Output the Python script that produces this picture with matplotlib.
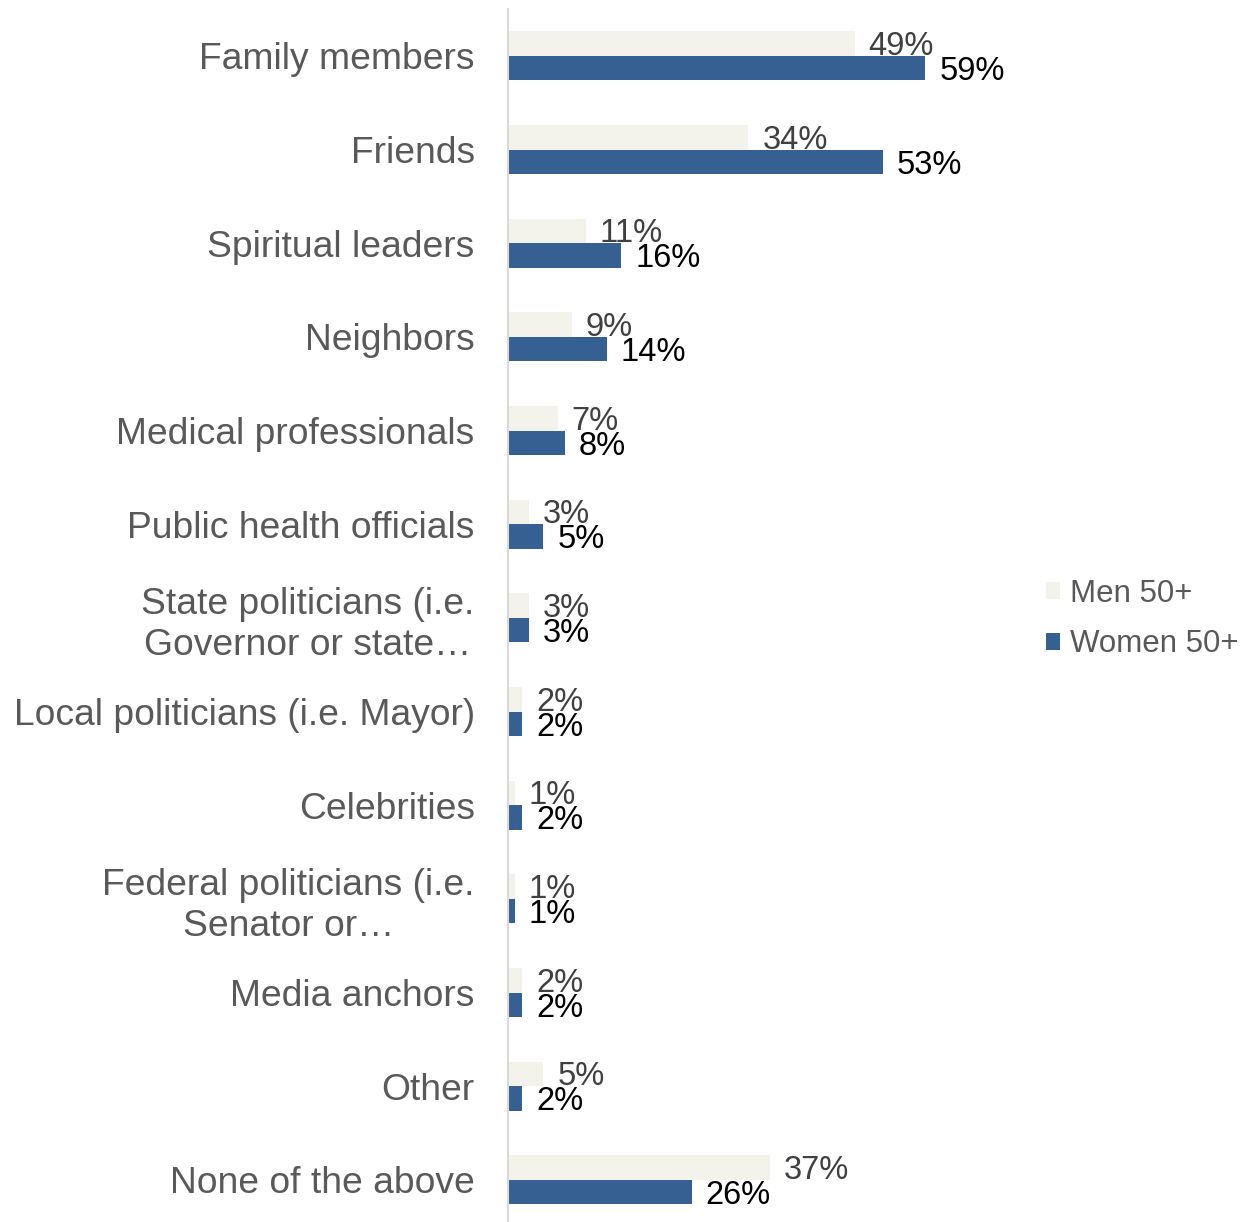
import matplotlib
matplotlib.use("Agg")
import matplotlib.pyplot as plt
import numpy as np
from matplotlib.patches import Patch

plt.rcParams['font.family'] = ['Liberation Sans', 'DejaVu Sans']

categories = [
    "Family members",
    "Friends",
    "Spiritual leaders",
    "Neighbors",
    "Medical professionals",
    "Public health officials",
    "State politicians (i.e.\nGovernor or state\u2026",
    "Local politicians (i.e. Mayor)",
    "Celebrities",
    "Federal politicians (i.e.\nSenator or\u2026",
    "Media anchors",
    "Other",
    "None of the above",
]
men = [49, 34, 11, 9, 7, 3, 3, 2, 1, 1, 2, 5, 37]
women = [59, 53, 16, 14, 8, 5, 3, 2, 2, 1, 2, 2, 26]
series_names = ["Men 50+", "Women 50+"]

men_color = "#F3F3EC"
women_color = "#376092"

fig = plt.figure(figsize=(12.46, 12.22), dpi=100)
ax = fig.add_axes([508 / 1246, 0.0, 522 / 1246, 1 - 9 / 1222])

n = len(categories)
y = np.arange(n)
h = 0.26

ax.barh(y - h / 2, men, height=h, color=men_color, edgecolor='none')
ax.barh(y + h / 2, women, height=h, color=women_color, edgecolor='none')

ax.set_ylim(12.45, -0.5)
ax.set_xlim(0, 73.8)

for i in range(n):
    ax.annotate(f"{men[i]}%", (men[i], y[i] - h / 2), xytext=(10, -2),
                textcoords='offset points', va='center', ha='left',
                fontsize=23.5, color='#404040')
    ax.annotate(f"{women[i]}%", (women[i], y[i] + h / 2), xytext=(10, -2.5),
                textcoords='offset points', va='center', ha='left',
                fontsize=23.5, color='black')

ax.set_yticks(y)
ax.set_yticklabels(categories, fontsize=26.8, color='#595959',
                   multialignment='center', linespacing=1.22)
ax.tick_params(axis='y', length=0, pad=24)
ax.set_xticks([])

for s in ['top', 'right', 'bottom']:
    ax.spines[s].set_visible(False)
ax.spines['left'].set_color('#D9D9D9')
ax.spines['left'].set_linewidth(1.5)

handles = [Patch(facecolor=men_color, edgecolor='none'),
           Patch(facecolor=women_color, edgecolor='none')]
fig.legend(handles, series_names, loc='center left',
           bbox_to_anchor=(1018 / 1246, 1 - 619 / 1222), frameon=False,
           fontsize=22.5, labelcolor='#595959', handlelength=0.45, handleheight=0.45,
           handletextpad=0.3, labelspacing=0.66)

fig.savefig("out.png", dpi=100)
